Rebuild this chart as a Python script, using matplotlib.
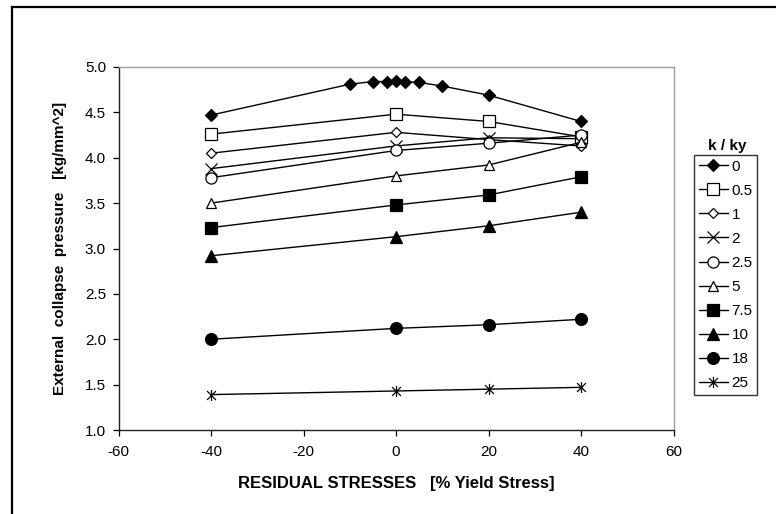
import matplotlib
matplotlib.use('Agg')
import matplotlib.pyplot as plt
from matplotlib.path import Path
from matplotlib.lines import Line2D
import numpy as np

plt.rcParams['font.family'] = ['Liberation Sans', 'DejaVu Sans']
plt.rcParams['axes.unicode_minus'] = False

# residual stress positions [% yield stress]
x_main = [-40, 0, 20, 40]
x_k0 = [-40, -10, -5, -2, 0, 2, 5, 10, 20, 40]

# external collapse pressure for each k/ky
y_k0 = [4.47, 4.81, 4.84, 4.84, 4.85, 4.84, 4.83, 4.79, 4.69, 4.40]
y_k05 = [4.26, 4.48, 4.40, 4.23]
y_k1 = [4.05, 4.28, 4.20, 4.13]
y_k2 = [3.88, 4.13, 4.22, 4.21]
y_k25 = [3.78, 4.08, 4.16, 4.25]
y_k5 = [3.50, 3.80, 3.92, 4.17]
y_k75 = [3.23, 3.48, 3.59, 3.79]
y_k10 = [2.92, 3.13, 3.25, 3.40]
y_k18 = [2.00, 2.12, 2.16, 2.22]
y_k25b = [1.39, 1.43, 1.45, 1.47]

labels = ['0', '0.5', '1', '2', '2.5', '5', '7.5', '10', '18', '25']

# asterisk marker like the excel "star": vertical line plus an X
star = Path([(0, -1), (0, 1), (-0.8, -0.8), (0.8, 0.8), (-0.8, 0.8), (0.8, -0.8)],
            [Path.MOVETO, Path.LINETO, Path.MOVETO, Path.LINETO, Path.MOVETO, Path.LINETO])

series = [
    (x_k0, y_k0, 'D', 'k', 6.0),
    (x_main, y_k05, 's', 'white', 8.0),
    (x_main, y_k1, 'D', 'white', 4.8),
    (x_main, y_k2, 'x', 'k', 8.0),
    (x_main, y_k25, 'o', 'white', 8.0),
    (x_main, y_k5, '^', 'white', 7.5),
    (x_main, y_k75, 's', 'k', 8.5),
    (x_main, y_k10, '^', 'k', 8.5),
    (x_main, y_k18, 'o', 'k', 8.5),
    (x_main, y_k25b, star, 'k', 8.0),
]

fig = plt.figure(figsize=(7.76, 5.14), dpi=100)
ax = fig.add_axes([118.5/776, 1-430/514, (673.5-118.5)/776, (430-67)/514])

handles = []
for (xs, ys, m, fc, ms), lab in zip(series, labels):
    h, = ax.plot(xs, ys, color='k', lw=1.0, marker=m, markersize=ms,
                 markerfacecolor=fc, markeredgecolor='k', markeredgewidth=0.9,
                 label=lab)
    handles.append(h)

ax.set_xlim(-60, 60)
ax.set_ylim(1.0, 5.0)
ax.set_xticks(np.arange(-60, 61, 20))
ax.set_yticks(np.arange(1.0, 5.01, 0.5))
ax.set_yticklabels([f'{v:.1f}' for v in np.arange(1.0, 5.01, 0.5)])
ax.tick_params(direction='out', length=4, width=0.9, labelsize=11, colors='k')
ax.tick_params(axis='x', pad=7)
ax.tick_params(axis='y', pad=5)

for s in ['left', 'bottom']:
    ax.spines[s].set_color('#202020')
    ax.spines[s].set_linewidth(1.0)
for s in ['top', 'right']:
    ax.spines[s].set_color('#a0a0a0')
    ax.spines[s].set_linewidth(1.0)

ax.set_xlabel('RESIDUAL STRESSES   [% Yield Stress]', fontsize=12, fontweight='bold', labelpad=12)
ax.set_ylabel('External  collapse  pressure   [kg/mm^2]', fontsize=11, fontweight='bold', labelpad=13)

leg = fig.legend(handles=handles, labels=labels, loc='upper left',
                 bbox_to_anchor=(694/776, 1-155/514), frameon=True, fancybox=False,
                 edgecolor='k', fontsize=11, handlelength=1.9, handletextpad=0.25,
                 labelspacing=0.66, borderpad=0.3, borderaxespad=0)
leg.get_frame().set_linewidth(1.0)
fig.text(727/776, 1-146/514, 'k / ky', ha='center', va='center', fontsize=11, fontweight='bold')

# outer chart border (left and top visible)
fig.add_artist(Line2D([12/776, 12/776], [0, 1-6.5/514], color='k', lw=1.6, transform=fig.transFigure))
fig.add_artist(Line2D([12/776, 1], [1-6.5/514, 1-6.5/514], color='k', lw=1.6, transform=fig.transFigure))

fig.savefig('out.png', dpi=100)
